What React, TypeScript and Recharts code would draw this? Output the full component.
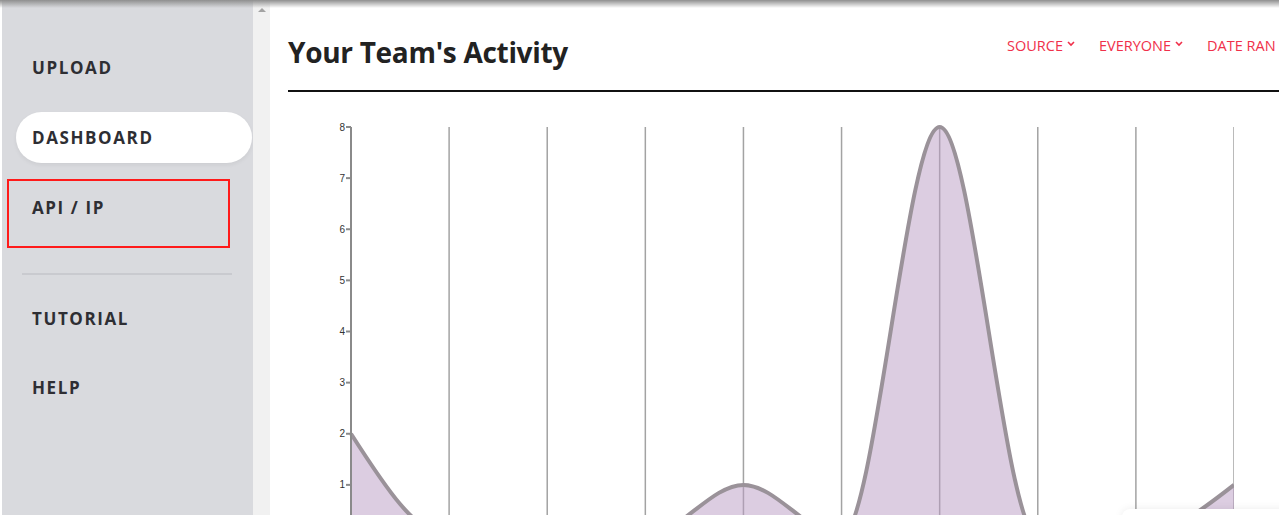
import { Area, AreaChart, CartesianGrid, XAxis, YAxis } from "recharts";

const days = ["1", "2", "3", "4", "5", "6", "7", "8", "9", "10"];
const activity = [2, 0, 0, 0, 1, 0, 8, 0, 0, 1];
const yTicks = [0, 1, 2, 3, 4, 5, 6, 7, 8];
const navItems = ["UPLOAD", "DASHBOARD", "API / IP", "TUTORIAL", "HELP"];
const filters = ["SOURCE", "EVERYONE", "DATE RAN"];

const data = days.map((d, i) => ({ day: d, count: activity[i] }));

const navTop = [67, 137, 207, 318, 387];

const Chevron = () => (
  <svg width="8" height="6" viewBox="0 0 8 6" style={{ marginLeft: 4, verticalAlign: 4 }}>
    <path d="M1 1 L4 4 L7 1" stroke="#f0304a" strokeWidth="1.6" fill="none" />
  </svg>
);

const App = () => (
  <div
    style={{
      position: "fixed",
      left: 0,
      top: 0,
      width: 1279,
      height: 515,
      overflow: "hidden",
      background: "#fff",
      fontFamily: "'Open Sans', sans-serif",
    }}
  >
    {/* sidebar */}
    <div style={{ position: "absolute", left: 2, top: 0, width: 251, height: 515, background: "#d9dade" }} />
    {navItems.map((label, i) => (
      <div
        key={label}
        style={{
          position: "absolute",
          left: 32,
          top: navTop[i] - 11,
          height: 24,
          lineHeight: "24px",
          fontSize: 17,
          fontWeight: 700,
          letterSpacing: 1.6,
          color: "#2e2e33",
          zIndex: 2,
        }}
      >
        {label}
      </div>
    ))}
    <div
      style={{
        position: "absolute",
        left: 16,
        top: 112,
        width: 236,
        height: 51,
        borderRadius: 26,
        background: "#fff",
        boxShadow: "0 2px 4px rgba(0,0,0,0.06)",
      }}
    />
    <div
      style={{
        position: "absolute",
        left: 7,
        top: 179,
        width: 219,
        height: 65,
        border: "2px solid #ff1a1a",
        zIndex: 3,
      }}
    />
    <div style={{ position: "absolute", left: 22, top: 273, width: 210, height: 2, background: "#c9cacf" }} />

    {/* scrollbar */}
    <div style={{ position: "absolute", left: 253, top: 0, width: 17, height: 515, background: "#f1f1f1" }} />
    <div
      style={{
        position: "absolute",
        left: 258,
        top: 8,
        width: 0,
        height: 0,
        borderLeft: "4px solid transparent",
        borderRight: "4px solid transparent",
        borderBottom: "4px solid #a3a3a3",
      }}
    />

    {/* top shadow */}
    <div
      style={{
        position: "absolute",
        left: 0,
        top: 0,
        width: 1279,
        height: 8,
        background: "linear-gradient(#8f8f8f, rgba(255,255,255,0))",
        zIndex: 5,
      }}
    />

    {/* header */}
    <div
      style={{
        position: "absolute",
        left: 288,
        top: 33,
        fontSize: 28,
        fontWeight: 700,
        color: "#222",
        lineHeight: "38px",
        letterSpacing: -0.3,
      }}
    >
      Your Team's Activity
    </div>
    <div style={{ position: "absolute", left: 1007, top: 36, display: "flex", gap: 24, whiteSpace: "nowrap" }}>
      {filters.map((f, i) => (
        <span key={f} style={{ fontSize: 14.5, color: "#f0304a", lineHeight: "20px" }}>
          {f}
          {i < filters.length - 1 && <Chevron />}
        </span>
      ))}
    </div>
    <div style={{ position: "absolute", left: 288, top: 90, width: 991, height: 2, background: "#111" }} />

    {/* chart - the x axis labels sit below the visible window */}
    <div style={{ position: "absolute", left: 290, top: 117 }}>
      <AreaChart width={944} height={449} data={data} margin={{ top: 10, right: 0, bottom: 0, left: 0 }}>
        <CartesianGrid horizontal={false} stroke="#a3a3a3" strokeWidth={1.5} />
        <XAxis dataKey="day" interval={0} height={30} stroke="#8a8a8a" tickFormatter={() => ""} />
        <YAxis
          width={61}
          domain={[0, 8]}
          ticks={yTicks}
          interval={0}
          stroke="#8a8a8a"
          strokeWidth={2}
          tick={{ fontSize: 10, fill: "#333", fontFamily: "Arial, 'Liberation Sans', sans-serif" }}
          tickSize={5}
          tickMargin={1}
        />
        <Area
          type="monotone"
          dataKey="count"
          stroke="#9a9299"
          strokeWidth={4}
          fill="#b99cc4"
          fillOpacity={0.5}
          dot={false}
          activeDot={false}
          isAnimationActive={false}
        />
      </AreaChart>
    </div>

    {/* bottom-right overlay */}
    <div
      style={{
        position: "absolute",
        left: 1122,
        top: 509,
        width: 200,
        height: 40,
        background: "#fff",
        borderRadius: 8,
        boxShadow: "0 0 8px rgba(0,0,0,0.08)",
        zIndex: 4,
      }}
    />
  </div>
);

export default App;
